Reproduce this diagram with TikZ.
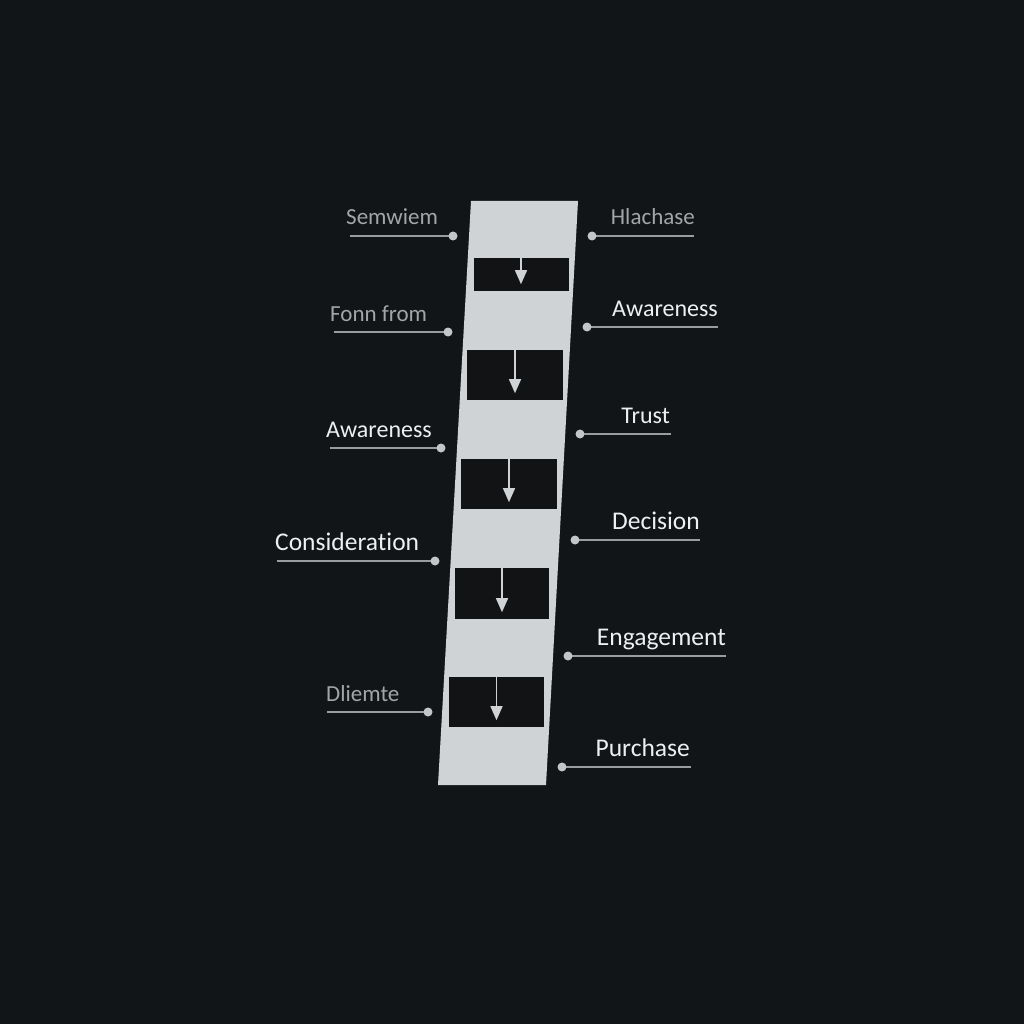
\documentclass[tikz,border=0pt]{standalone}
\usepackage{fontspec}
\setmainfont{Carlito}[Ligatures={NoCommon,NoContextual}]
\usetikzlibrary{arrows.meta}
\definecolor{bg}{HTML}{121518}
\definecolor{barc}{HTML}{D0D3D5}
\definecolor{boxc}{HTML}{111315}
\definecolor{txtw}{HTML}{EEEFF0}
\definecolor{txtg}{HTML}{A3A6A8}
\definecolor{linec}{HTML}{9A9DA0}
\definecolor{dotc}{HTML}{C3C6C8}
\tikzset{
  stepbox/.style={fill=boxc, draw=none, inner sep=0pt, minimum width=95pt, minimum height=33pt},
  flowarrow/.style={draw=barc, line width=1.4pt, -{Triangle[length=14pt,width=12pt]}},
  lbl/.style={font=\fontsize{24}{28}\selectfont, inner sep=0pt, text=txtw},
  lblbig/.style={font=\fontsize{25.5}{30}\selectfont, inner sep=0pt, text=txtw},
  lblg/.style={font=\fontsize{23}{28}\selectfont, inner sep=0pt, text=txtg},
  leader/.style={draw=linec, line width=1.2pt},
  dotmark/.style={fill=dotc}
}
\begin{document}
\begin{tikzpicture}[x=1pt,y=-1pt]
\fill[bg] (0,0) rectangle (1024,1024);
\useasboundingbox (0,0) rectangle (1024,1024);
% slanted bar
\fill[barc] (471,201) -- (578,201) -- (546,785) -- (438,785) -- cycle;
% boxes
\node[stepbox] (b1) at (521,274.5) {};
\node[stepbox, minimum height=50pt, minimum width=96pt] (b2) at (515,375) {};
\node[stepbox, minimum height=50pt, minimum width=96pt] (b3) at (509,484) {};
\node[stepbox, minimum height=51pt, minimum width=94pt] (b4) at (502,593.5) {};
\node[stepbox, minimum height=50pt, minimum width=95pt] (b5) at (496.5,702) {};
\foreach \b in {b1,b2,b3,b4,b5}{
  \draw[flowarrow] (\b.north) -- ([yshift=7pt]\b.south);
}
% left labels
\coordinate (la1) at (350,236); \coordinate (lb1) at (453,236);
\coordinate (la2) at (334,332); \coordinate (lb2) at (448,332);
\coordinate (la3) at (330,448); \coordinate (lb3) at (441,448);
\coordinate (la4) at (277,561); \coordinate (lb4) at (435,561);
\coordinate (la5) at (327,712); \coordinate (lb5) at (428,712);
\foreach \i in {1,...,5}{
  \draw[leader] (la\i) -- (lb\i);
  \fill[dotmark] (lb\i) circle (4.5pt);
}
\node[lblg, anchor=base west] (t1) at (346,225) {Semwiem};
\node[lblg, anchor=base west] (t2) at (330,321) {Fonn from};
\node[lbl, anchor=base west] (t3) at (326,437) {Awareness};
\node[lblbig, anchor=base west] (t4) at (275,550) {Consideration};
\node[lblg, anchor=base west] (t5) at (326,701) {Dliemte};
% right labels
\coordinate (ra1) at (592,236); \coordinate (rb1) at (694,236);
\coordinate (ra2) at (587,327); \coordinate (rb2) at (718,327);
\coordinate (ra3) at (580,434); \coordinate (rb3) at (671,434);
\coordinate (ra4) at (575,540); \coordinate (rb4) at (700,540);
\coordinate (ra5) at (568,656); \coordinate (rb5) at (726,656);
\coordinate (ra6) at (562,767); \coordinate (rb6) at (691,767);
\foreach \i in {1,...,6}{
  \draw[leader] (ra\i) -- (rb\i);
  \fill[dotmark] (ra\i) circle (4.5pt);
}
\node[lblg, anchor=base east] (s1) at (695,225) {Hlachase};
\node[lbl, anchor=base east] (s2) at (718,316) {Awareness};
\node[lbl, anchor=base east] (s3) at (670,423) {Trust};
\node[lblbig, anchor=base east] (s4) at (700,529) {Decision};
\node[lblbig, anchor=base east] (s5) at (726,645) {Engagement};
\node[lblbig, anchor=base east] (s6) at (690,756) {Purchase};
\end{tikzpicture}
\end{document}
